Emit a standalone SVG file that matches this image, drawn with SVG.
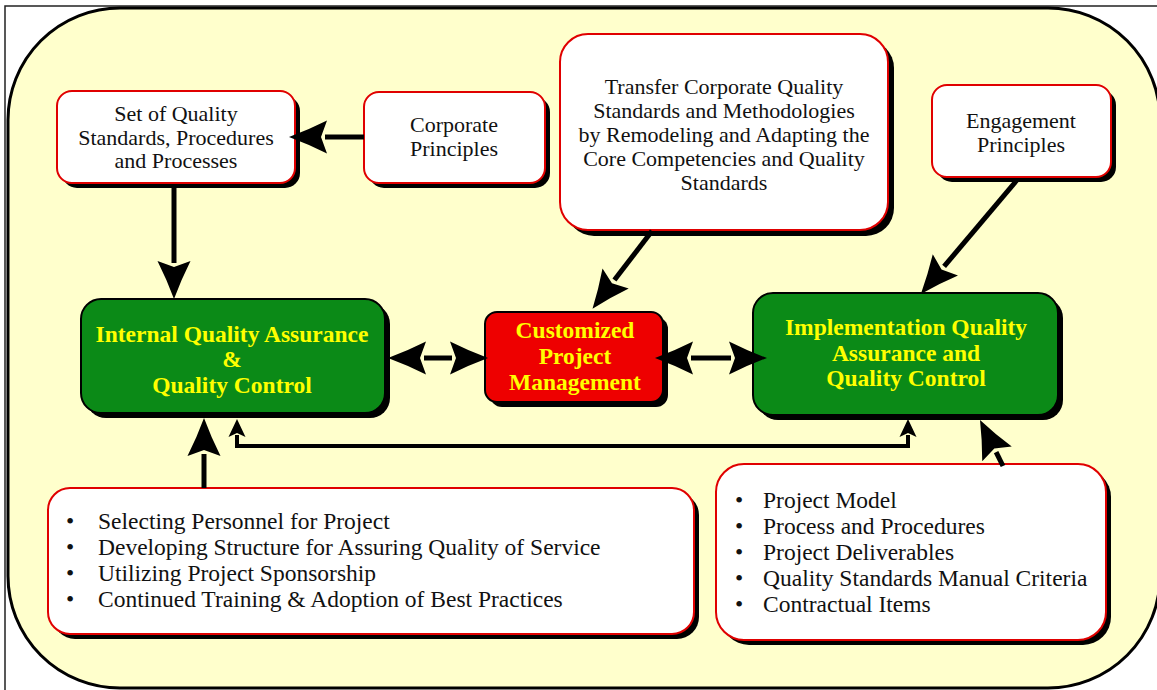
<svg xmlns="http://www.w3.org/2000/svg" width="1157" height="690" viewBox="0 0 1157 690">
  <style>
    .sh { fill: #000; }
    .wbox { fill: #fff; stroke: #e00000; stroke-width: 2; }
    .gbox { fill: #0b8a17; stroke: #000; stroke-width: 2; }
    .rbox { fill: #ee0000; stroke: #000; stroke-width: 2; }
    .t { font-family: "Liberation Serif", "Times New Roman", serif; font-size: 22px; fill: #111; }
    .l { font-family: "Liberation Serif", "Times New Roman", serif; font-size: 23.5px; fill: #111; }
    .c { text-anchor: middle; }
    .b { font-family: "Liberation Serif", "Times New Roman", serif; font-size: 23.5px; font-weight: bold; fill: #ffff00; text-anchor: middle; }
    .ln { fill: none; stroke: #000; stroke-width: 5; }
    .fb { fill: none; stroke: #000; stroke-width: 4; }
  </style>
  <defs>
    <!-- large notched arrowhead; the line ends 36px before the tip -->
    <marker id="ah" markerUnits="userSpaceOnUse" orient="auto" refX="0" refY="0" markerWidth="60" markerHeight="60" overflow="visible">
      <path d="M36,0 Q17,-7 -2,-16.5 L4,0 L-2,16.5 Q17,7 36,0 Z" fill="#000"/>
    </marker>
    <marker id="ah2" markerUnits="userSpaceOnUse" orient="auto-start-reverse" refX="0" refY="0" markerWidth="60" markerHeight="60" overflow="visible">
      <path d="M36,0 Q17,-7 -2,-16.5 L4,0 L-2,16.5 Q17,7 36,0 Z" fill="#000"/>
    </marker>
    <!-- small arrowhead for the feedback loop -->
    <marker id="sa" markerUnits="userSpaceOnUse" orient="auto-start-reverse" refX="0" refY="0" markerWidth="30" markerHeight="30" overflow="visible">
      <path d="M16,0 L-2,-8.5 L2,0 L-2,8.5 Z" fill="#000"/>
    </marker>
  </defs>

  <!-- page -->
  <rect x="0" y="0" width="1157" height="690" fill="#fff"/>
  <rect x="5" y="6" width="1160" height="690" fill="none" stroke="#222" stroke-width="1.5"/>
  <rect id="frame" x="8" y="8" width="1152" height="680" rx="112" ry="112" fill="#ffffcc" stroke="#000" stroke-width="3"/>

  <g id="set-of-quality">
    <rect class="sh" x="62" y="96" width="238" height="92" rx="15"/>
    <rect class="wbox" x="57" y="91" width="238" height="92" rx="15"/>
    <text class="t c" x="176" y="121">Set of Quality</text>
    <text class="t c" x="176" y="145">Standards, Procedures</text>
    <text class="t c" x="176" y="168">and Processes</text>
  </g>

  <g id="corporate-principles">
    <rect class="sh" x="369" y="97" width="181" height="91" rx="15"/>
    <rect class="wbox" x="364" y="92" width="181" height="91" rx="15"/>
    <text class="t c" x="454" y="132">Corporate</text>
    <text class="t c" x="454" y="156">Principles</text>
  </g>

  <g id="transfer-standards">
    <rect class="sh" x="566" y="40" width="328" height="196" rx="28"/>
    <rect class="wbox" x="560" y="34" width="328" height="196" rx="28"/>
    <text class="t c" x="724" y="94">Transfer Corporate Quality</text>
    <text class="t c" x="724" y="118">Standards and Methodologies</text>
    <text class="t c" x="724" y="142">by Remodeling and Adapting the</text>
    <text class="t c" x="724" y="166">Core Competencies and Quality</text>
    <text class="t c" x="724" y="190">Standards</text>
  </g>

  <g id="engagement-principles">
    <rect class="sh" x="937" y="90" width="179" height="92" rx="15"/>
    <rect class="wbox" x="932" y="85" width="179" height="92" rx="15"/>
    <text class="t c" x="1021" y="128">Engagement</text>
    <text class="t c" x="1021" y="152">Principles</text>
  </g>

  <g id="internal-qa">
    <rect class="sh" x="86" y="304" width="304" height="114" rx="20"/>
    <rect class="gbox" x="81" y="299" width="304" height="114" rx="20"/>
    <text class="b" x="232" y="342">Internal Quality Assurance</text>
    <text class="b" x="232" y="367">&amp;</text>
    <text class="b" x="232" y="393">Quality Control</text>
  </g>

  <g id="customized-pm">
    <rect class="sh" x="490" y="317" width="178" height="90" rx="12"/>
    <rect class="rbox" x="485" y="312" width="178" height="90" rx="12"/>
    <text class="b" x="575" y="338">Customized</text>
    <text class="b" x="575" y="364">Project</text>
    <text class="b" x="575" y="390">Management</text>
  </g>

  <g id="implementation-qa">
    <rect class="sh" x="758" y="298" width="305" height="122" rx="20"/>
    <rect class="gbox" x="753" y="293" width="305" height="122" rx="20"/>
    <text class="b" x="906" y="335">Implementation Quality</text>
    <text class="b" x="906" y="361">Assurance and</text>
    <text class="b" x="906" y="386">Quality Control</text>
  </g>

  <g id="internal-activities">
    <rect class="sh" x="53" y="493" width="646" height="146" rx="22"/>
    <rect class="wbox" x="48" y="488" width="646" height="146" rx="22"/>
    <text class="l" x="66" y="529">•</text>
    <text class="l" x="98" y="529">Selecting Personnel for Project</text>
    <text class="l" x="66" y="555">•</text>
    <text class="l" x="98" y="555">Developing Structure for Assuring Quality of Service</text>
    <text class="l" x="66" y="581">•</text>
    <text class="l" x="98" y="581">Utilizing Project Sponsorship</text>
    <text class="l" x="66" y="607">•</text>
    <text class="l" x="98" y="607">Continued Training &amp; Adoption of Best Practices</text>
  </g>

  <g id="implementation-items">
    <rect class="sh" x="721" y="469" width="390" height="176" rx="28"/>
    <rect class="wbox" x="716" y="464" width="390" height="176" rx="28"/>
    <text class="l" x="735" y="508">•</text>
    <text class="l" x="763" y="508">Project Model</text>
    <text class="l" x="735" y="534">•</text>
    <text class="l" x="763" y="534">Process and Procedures</text>
    <text class="l" x="735" y="560">•</text>
    <text class="l" x="763" y="560">Project Deliverables</text>
    <text class="l" x="735" y="586">•</text>
    <text class="l" x="763" y="586">Quality Standards Manual Criteria</text>
    <text class="l" x="735" y="612">•</text>
    <text class="l" x="763" y="612">Contractual Items</text>
  </g>

  <g id="connectors">
    <line class="ln" x1="364" y1="137" x2="325" y2="137" marker-end="url(#ah)"/>
    <line class="ln" x1="174" y1="186" x2="174" y2="263" marker-end="url(#ah)"/>
    <line class="ln" x1="652" y1="231" x2="614.4" y2="280.1" marker-end="url(#ah)"/>
    <line class="ln" x1="1017" y1="180" x2="944.1" y2="266.4" marker-end="url(#ah)"/>
    <line class="ln" x1="424" y1="358" x2="452" y2="358" marker-start="url(#ah2)" marker-end="url(#ah2)"/>
    <line class="ln" x1="691" y1="358" x2="731" y2="358" marker-start="url(#ah2)" marker-end="url(#ah2)"/>
    <line class="ln" x1="204" y1="488" x2="204" y2="454" marker-end="url(#ah)"/>
    <line class="ln" x1="1003" y1="466" x2="996.1" y2="452.2" marker-end="url(#ah)"/>
    <path class="fb" d="M908,435 V446 H237 V435" marker-start="url(#sa)" marker-end="url(#sa)"/>
  </g>
</svg>
